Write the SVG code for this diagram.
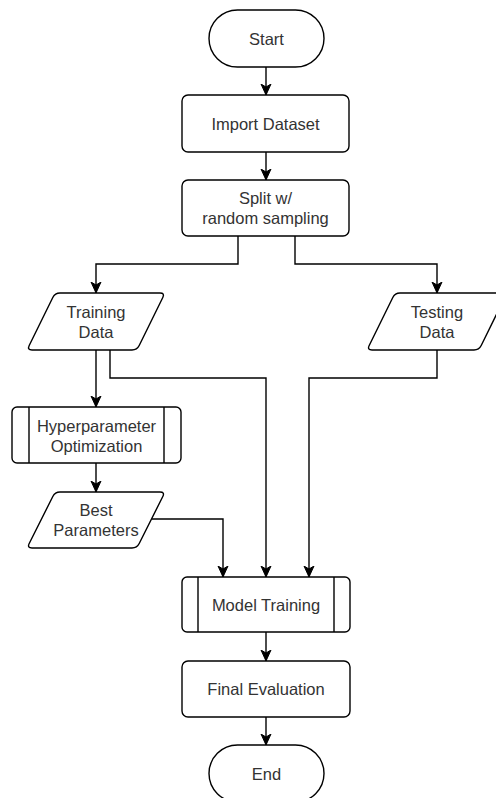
<svg xmlns="http://www.w3.org/2000/svg" width="496" height="798" viewBox="0 0 496 798">
<style>
.s{fill:#ffffff;stroke:#000000;stroke-width:1.4;stroke-linejoin:round}
.l{fill:none;stroke:#000000;stroke-width:1.4}
.c{fill:none;stroke:#000000;stroke-width:1.4;marker-end:url(#arr)}
text{font-family:"Liberation Sans",Arial,sans-serif;font-size:16.5px;fill:#333333;text-anchor:middle;dominant-baseline:central}
</style>
<defs>
<marker id="arr" markerUnits="userSpaceOnUse" markerWidth="12" markerHeight="12" viewBox="0 0 12 12" refX="11" refY="6" orient="auto">
<path d="M0,1 L11,6 L0,11 L3,6 Z" fill="#000000" stroke="#000000" stroke-width="1"/>
</marker>
</defs>
<rect width="496" height="798" fill="#ffffff"/>
<g id="connectors">
<path class="c" d="M266,67 V95"/>
<path class="c" d="M266,152 V180"/>
<path class="c" d="M238,236 V264 H96 V293"/>
<path class="c" d="M295,236 V264 H437 V293"/>
<path class="c" d="M96,350 V407"/>
<path class="c" d="M110,350 V378 H266 V577"/>
<path class="c" d="M96,463 V492"/>
<path class="c" d="M152,519 H223 V577"/>
<path class="c" d="M437,350 V378 H309 V577"/>
<path class="c" d="M266,632 V661"/>
<path class="c" d="M266,717 V745"/>
</g>
<g id="start">
<rect class="s" x="209" y="10" width="115" height="57" rx="28.5"/>
<text x="266.5" y="38.5">Start</text>
</g>
<g id="import">
<rect class="s" x="182" y="95" width="167" height="57" rx="6"/>
<text x="265.5" y="123.5">Import Dataset</text>
</g>
<g id="split">
<rect class="s" x="182" y="180" width="167" height="56" rx="6"/>
<text x="265.5" y="198">Split w/</text>
<text x="265.5" y="218">random sampling</text>
</g>
<g id="training">
<path class="s" d="M60,293 H160 Q165,293 162.8,297.5 L139.2,345.5 Q137,350 132,350 H32 Q27,350 29.2,345.5 L52.8,297.5 Q55,293 60,293 Z"/>
<text x="96" y="311.5">Training</text>
<text x="96" y="331.5">Data</text>
</g>
<g id="testing">
<path class="s" d="M400,293 H502 Q507,293 504.8,297.5 L481.2,345.5 Q479,350 474,350 H372 Q367,350 369.2,345.5 L392.8,297.5 Q395,293 400,293 Z"/>
<text x="437" y="311.5">Testing</text>
<text x="437" y="331.5">Data</text>
</g>
<g id="hyper">
<rect class="s" x="12" y="407" width="169" height="56" rx="5"/>
<path class="l" d="M29,407 V463 M164,407 V463"/>
<text x="96.5" y="425.5">Hyperparameter</text>
<text x="96.5" y="445.5">Optimization</text>
</g>
<g id="best">
<path class="s" d="M60,492 H160 Q165,492 162.8,496.5 L139.2,543.5 Q137,548 132,548 H32 Q27,548 29.2,543.5 L52.8,496.5 Q55,492 60,492 Z"/>
<text x="96" y="510">Best</text>
<text x="96" y="530">Parameters</text>
</g>
<g id="model">
<rect class="s" x="182" y="577" width="168" height="55" rx="5"/>
<path class="l" d="M198,577 V632 M334,577 V632"/>
<text x="266" y="604.5">Model Training</text>
</g>
<g id="final">
<rect class="s" x="182" y="661" width="168" height="56" rx="6"/>
<text x="266" y="689">Final Evaluation</text>
</g>
<g id="end">
<rect class="s" x="209" y="745" width="115" height="57" rx="28.5"/>
<text x="266.5" y="773.5">End</text>
</g>
</svg>
